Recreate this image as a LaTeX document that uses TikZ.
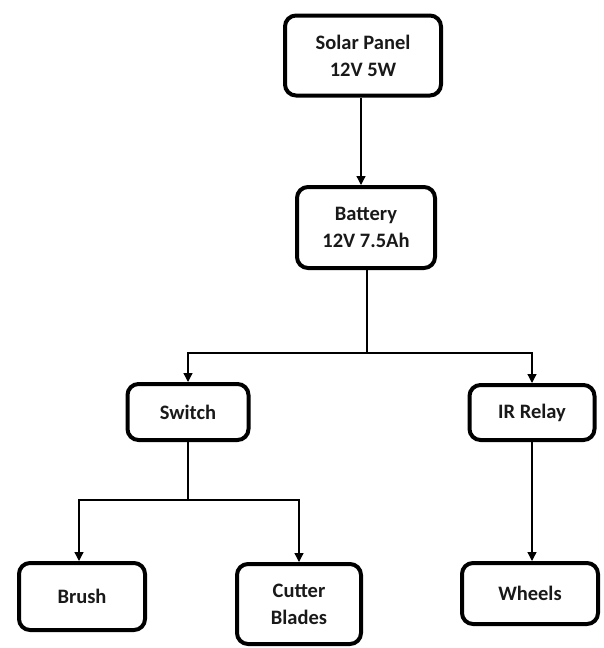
\documentclass[tikz,border=0pt]{standalone}
\usepackage{fontspec}
\setmainfont{Carlito}
\usetikzlibrary{arrows.meta}
\begin{document}
\begin{tikzpicture}[x=1pt,y=-1pt,
  blk/.style={draw=black, line width=4pt, rounded corners=11pt, fill=white,
    align=center, inner sep=0pt, font=\fontsize{20.5}{27}\selectfont\bfseries, text=black!90},
  conn/.style={draw=black, line width=1.3pt},
  arr/.style={conn, -{Triangle[width=9pt,length=9pt]}}]
\useasboundingbox (0,0) rectangle (604,648);
\node[blk, minimum width=156pt, minimum height=80pt] (sol) at (363,55.5) {Solar Panel\\12V 5W};
\node[blk, minimum width=138pt, minimum height=81pt] (bat) at (366,227.5) {Battery\\12V 7.5Ah};
\node[blk, minimum width=121pt, minimum height=56pt] (sw) at (188,412) {Switch};
\node[blk, minimum width=125pt, minimum height=55pt] (ir) at (532,412.5) {IR Relay};
\node[blk, minimum width=126pt, minimum height=67pt] (br) at (82,596.5) {Brush};
\node[blk, minimum width=124pt, minimum height=80pt] (cb) at (299,604) {Cutter\\Blades};
\node[blk, minimum width=136pt, minimum height=61pt] (wh) at (530,593.5) {Wheels};
\coordinate (j1) at (367,353);
\coordinate (j2) at (188,500);
\draw[arr] ([xshift=-2pt]sol.south) -- ([xshift=-2pt]sol.south |- bat.north);
\draw[conn] ([xshift=1pt]bat.south) -- (j1);
\draw[arr] (j1) -| (sw.north);
\draw[arr] (j1) -| (ir.north);
\draw[conn] (sw.south) -- (j2);
\draw[arr] (j2) -| ([xshift=-3pt]br.north);
\draw[arr] (j2) -| (cb.north);
\draw[arr] (ir.south) -- (ir.south |- wh.north);
\end{tikzpicture}
\end{document}
